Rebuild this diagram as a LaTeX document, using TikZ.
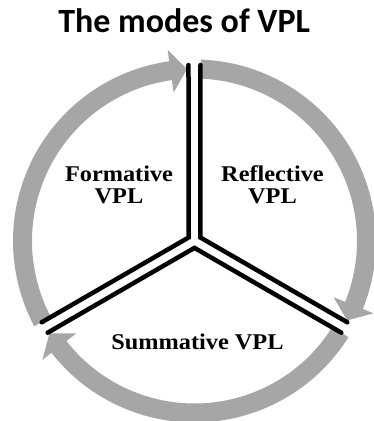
\documentclass[tikz,border=0pt]{standalone}
\usepackage{fontspec}
\newfontfamily\headfont{Carlito}
\newfontfamily\modefont[FakeStretch=1.08]{Liberation Serif}
\usepackage{xcolor}
\usepackage{tikz}
\usetikzlibrary{calc}
\definecolor{ring}{HTML}{A6A6A6}
\definecolor{ink}{HTML}{000000}
\tikzset{
  cyclearrow/.style = {fill=ring, draw=none},
  divider/.style    = {draw=ink, line width=4.5pt, line cap=round, line join=miter},
  mode/.style       = {font=\fontsize{22.5}{22}\selectfont\modefont\bfseries\color{ink}, align=center, inner sep=0pt, outer sep=0pt},
  heading/.style    = {font=\fontsize{34}{38}\selectfont\headfont\bfseries\color{ink}, anchor=base, inner sep=0pt, outer sep=0pt},
}
\def\rin{162.5}
\def\rout{181.5}
\def\rmid{172}
\def\rfoot{150}
\def\rwing{193}
\def\gap{6}

\begin{document}
\begin{tikzpicture}[x=1pt,y=1pt]
\useasboundingbox (-194.5,-180) rectangle (179.5,241);
\clip (-194.5,-180) rectangle (179.5,241);

\coordinate (hub) at (0,0);

\node[heading] (title) at (-10.3,209) {The modes of VPL};

% ---- the three arrows round the cycle -----------------------------------
\foreach \tail/\neck/\tip in {208/98/92.5, 88/-22/-27.5, -32/-142/-147.5} {
  \fill[cyclearrow] (\tail:\rout) arc[start angle=\tail, end angle=\neck, radius=\rout]
    -- (\neck:\rwing) -- (\tip:\rmid) -- (\neck:\rfoot)
    -- (\neck:\rin) arc[start angle=\neck, end angle=\tail, radius=\rin] -- cycle;
}

% ---- double dividers meeting at the hub ---------------------------------
\draw[divider] ($(hub)+(90:176)+(180:\gap)$) -- ($(hub)+(150:6.9)$) -- ($(hub)+(210:173)+(120:\gap)$);
\draw[divider] ($(hub)+(90:176)+(0:\gap)$) -- ($(hub)+(30:6.9)$) -- ($(hub)+(-30:173)+(60:\gap)$);
\draw[divider] ($(hub)+(210:173)+(300:\gap)$) -- ($(hub)+(270:6.9)$) -- ($(hub)+(-30:173)+(240:\gap)$);

% ---- mode labels --------------------------------------------------------
\node[mode] (formative)  at (-75.5,56) {Formative\\VPL};
\node[mode] (reflective) at (78,56) {Reflective\\VPL};
\node[mode, anchor=base] (summative) at (3,-108) {Summative VPL};

\end{tikzpicture}
\end{document}
